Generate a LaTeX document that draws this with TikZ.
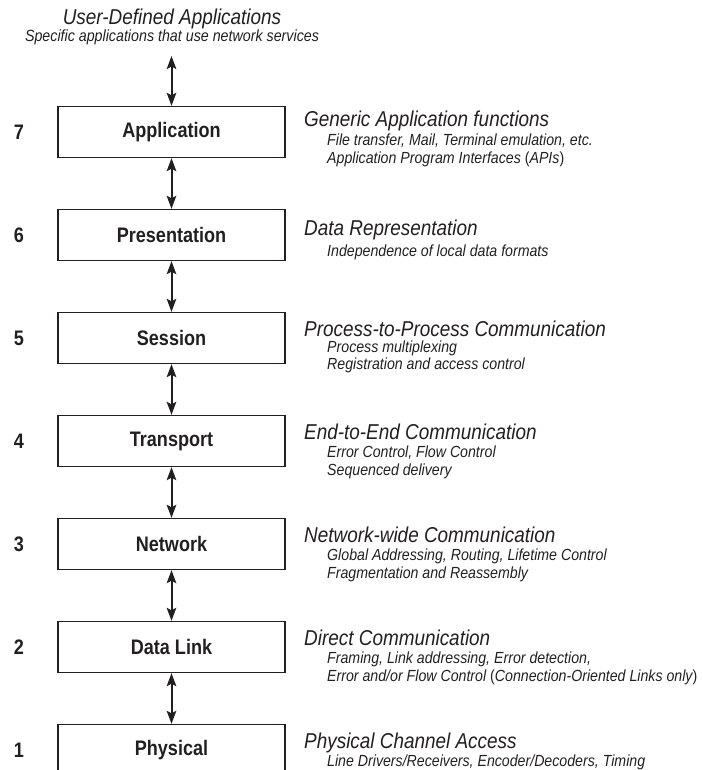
\documentclass[tikz,border=0pt]{standalone}
\usepackage{fontspec}
\setmainfont{Liberation Sans}[FakeStretch=0.88]
\newfontfamily\labelfont{Liberation Sans}[FakeStretch=0.86]
\usetikzlibrary{arrows.meta}
\definecolor{ink}{HTML}{231F20}
\begin{document}
\begin{tikzpicture}[x=1pt,y=-1pt,
  layerbox/.style={draw=ink, line width=1.3pt, minimum width=227pt, minimum height=51pt,
    inner sep=0pt, text=ink, font=\labelfont\fontsize{21}{24}\selectfont\bfseries},
  num/.style={text=ink, inner sep=0pt, font=\labelfont\fontsize{21}{24}\selectfont\bfseries},
  link/.style={draw=ink, line width=2pt,
    {Stealth[length=13pt,width=9.5pt,inset=2.5pt]}-{Stealth[length=13pt,width=9.5pt,inset=2.5pt]}},
  head/.style={anchor=base west, inner sep=0pt, text=ink, font=\fontsize{21.5}{24}\selectfont\itshape},
  detail/.style={anchor=base west, inner sep=0pt, text=ink, font=\fontsize{16.1}{18}\selectfont\itshape},
  toptitle/.style={anchor=base, inner sep=0pt, text=ink, font=\fontsize{21.5}{24}\selectfont\itshape},
  topsub/.style={anchor=base, inner sep=0pt, text=ink, font=\fontsize{16.2}{18}\selectfont\itshape},
]
\useasboundingbox (0,0) rectangle (703,770);
\clip (0,0) rectangle (703,770);

% applications above the stack
\node[toptitle] (user) at (172,25) {User-Defined Applications};
\node[topsub] (usersub) at (172,42) {Specific applications that use network services};
\coordinate (usertip) at (171.5,56);

% the seven layers
\node[layerbox] (app)  at (171.5,132) {Application};
\node[layerbox] (pres) at (171.5,235) {Presentation};
\node[layerbox] (sess) at (171.5,338) {Session};
\node[layerbox] (tran) at (171.5,441) {Transport};
\node[layerbox] (netw) at (171.5,544) {Network};
\node[layerbox] (dlink) at (171.5,647) {Data Link};
\node[layerbox] (phys) at (171.5,750) {Physical};

% layer numbers
\node[num] (n7) at (19,132) {7};
\node[num] (n6) at (19,235) {6};
\node[num] (n5) at (19,338) {5};
\node[num] (n4) at (19,441) {4};
\node[num] (n3) at (19,544) {3};
\node[num] (n2) at (19,647) {2};
\node[num] (n1) at (19,750) {1};

% connections between adjacent layers
\draw[link] (usertip) -- (app.north);
\draw[link] (app.south) -- (pres.north);
\draw[link] (pres.south) -- (sess.north);
\draw[link] (sess.south) -- (tran.north);
\draw[link] (tran.south) -- (netw.north);
\draw[link] (netw.south) -- (dlink.north);
\draw[link] (dlink.south) -- (phys.north);

% layer descriptions
\node[head] (h7) at (304,127) {Generic Application functions};
\node[detail] (d7a) at (327,146) {File transfer, Mail, Terminal emulation, etc.};
\node[detail] (d7b) at (327,164) {Application Program Interfaces {\upshape(}APIs{\upshape)}};

\node[head] (h6) at (304,235) {Data Representation};
\node[detail] (d6a) at (327,256) {Independence of local data formats};

\node[head] (h5) at (304,336) {Process-to-Process Communication};
\node[detail] (d5a) at (327,352) {Process multiplexing};
\node[detail] (d5b) at (327,369) {Registration and access control};

\node[head] (h4) at (304,439) {End-to-End Communication};
\node[detail] (d4a) at (327,457) {Error Control, Flow Control};
\node[detail] (d4b) at (327,475) {Sequenced delivery};

\node[head] (h3) at (304,542) {Network-wide Communication};
\node[detail] (d3a) at (327,560) {Global Addressing, Routing, Lifetime Control};
\node[detail] (d3b) at (327,578) {Fragmentation and Reassembly};

\node[head] (h2) at (304,645) {Direct Communication};
\node[detail] (d2a) at (327,663) {Framing, Link addressing, Error detection,};
\node[detail] (d2b) at (327,681) {Error and/or Flow Control {\upshape(}Connection-Oriented Links only{\upshape)}};

\node[head] (h1) at (304,748) {Physical Channel Access};
\node[detail] (d1a) at (327,766) {Line Drivers/Receivers, Encoder/Decoders, Timing};
\end{tikzpicture}
\end{document}
